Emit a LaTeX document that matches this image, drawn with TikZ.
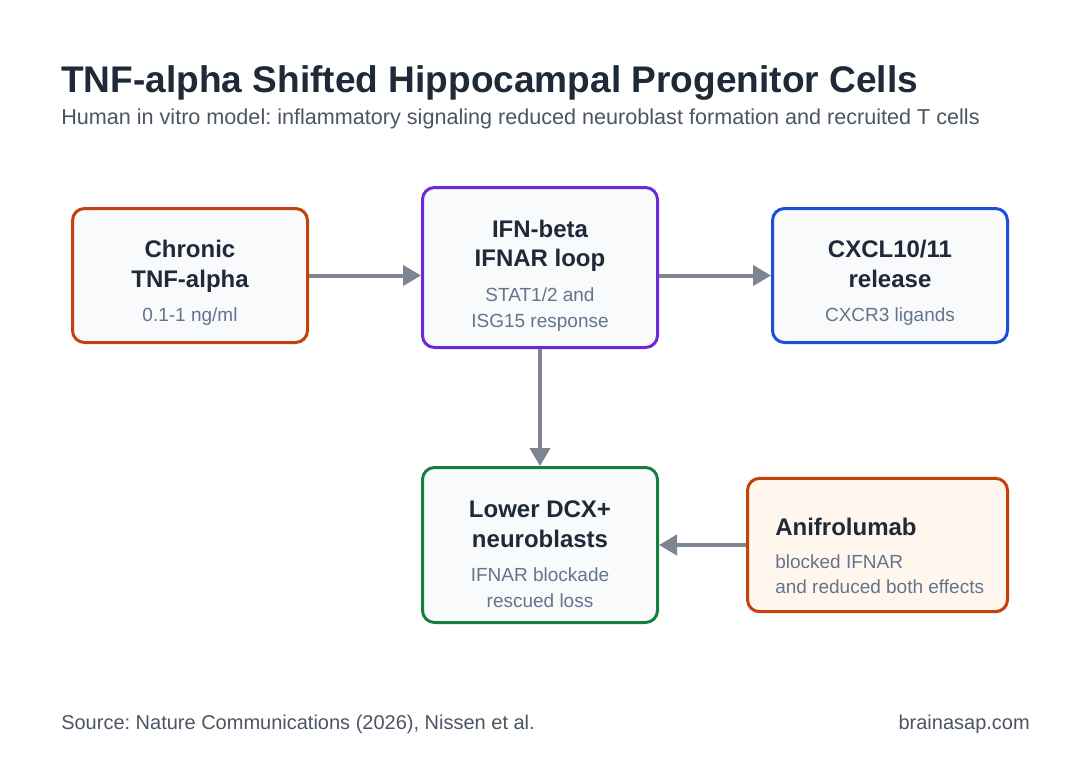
\documentclass[tikz,border=0pt]{standalone}
\usepackage{fontspec}
\setmainfont{Liberation Sans}
\frenchspacing
\usetikzlibrary{arrows.meta}
\definecolor{ink}{HTML}{1F2937}
\definecolor{sub}{HTML}{4B5563}
\definecolor{muted}{HTML}{64748B}
\definecolor{arr}{HTML}{7D8591}
\definecolor{boxbg}{HTML}{F8FAFC}
\definecolor{c1}{HTML}{C2410C}
\definecolor{c2}{HTML}{6D28D9}
\definecolor{c3}{HTML}{1D4ED8}
\definecolor{c4}{HTML}{15803D}
\definecolor{c5bg}{HTML}{FFF7ED}
\tikzset{
  box/.style={draw, line width=2.25pt, rounded corners=9pt, fill=boxbg, inner sep=0pt},
  head/.style={inner sep=0pt, anchor=base, text=ink, font=\bfseries\fontsize{18}{18}\selectfont},
  note/.style={inner sep=0pt, anchor=base, text=muted, font=\fontsize{14.25}{14.25}\selectfont},
  link/.style={draw=arr, line width=3pt, -{Triangle[length=13.5pt,width=15pt]}}
}
\begin{document}
\begin{tikzpicture}[x=0.75pt,y=-0.75pt]
\fill[white] (0,0) rectangle (1080,760);
\useasboundingbox (0,0) rectangle (1080,760);
% title
\node[inner sep=0pt, anchor=base west, text=ink, font=\bfseries\fontsize{27.8}{27.8}\selectfont] (title) at (61,92) {TNF-alpha Shifted Hippocampal Progenitor Cells};
\node[inner sep=0pt, anchor=base west, text=sub, font=\fontsize{16.2}{16.2}\selectfont] (subtitle) at (61,124) {Human in vitro model: inflammatory signaling reduced neuroblast formation and recruited T cells};
% boxes
\node[box, draw=c1, minimum width=176.25pt, minimum height=100.5pt] (b1) at (190,275.5) {};
\node[box, draw=c2, minimum width=176.25pt, minimum height=120pt] (b2) at (540,267.5) {};
\node[box, draw=c3, minimum width=176.25pt, minimum height=100.5pt] (b3) at (890,275.5) {};
\node[box, draw=c4, minimum width=176.25pt, minimum height=116.25pt] (b4) at (540,545) {};
\node[box, draw=c1, fill=c5bg, minimum width=195pt, minimum height=100pt] (b5) at (877.5,545) {};
% texts
\node[head] (t1a) at (190,257) {Chronic};
\node[head] (t1b) at (190,287) {TNF-alpha};
\node[note] (t1c) at (190,321) {0.1-1 ng/ml};
\node[head] (t2a) at (540,237) {IFN-beta};
\node[head] (t2b) at (540,266) {IFNAR loop};
\node[note] (t2c) at (540,301) {STAT1/2 and};
\node[note] (t2d) at (540,327) {ISG15 response};
\node[head] (t3a) at (890,257) {CXCL10/11};
\node[head] (t3b) at (890,287) {release};
\node[note] (t3c) at (890,321) {CXCR3 ligands};
\node[head] (t4a) at (540,517) {Lower DCX+};
\node[head] (t4b) at (540,547) {neuroblasts};
\node[note] (t4c) at (540,581) {IFNAR blockade};
\node[note] (t4d) at (540,607) {rescued loss};
\node[head, anchor=base west] (t5a) at (775,535) {Anifrolumab};
\node[note, anchor=base west] (t5b) at (775,568) {blocked IFNAR};
\node[note, anchor=base west] (t5c) at (775,593) {and reduced both effects};
% arrows
\draw[link] (b1.east) -- (b1.east -| b2.west);
\draw[link] (b3.west -| b2.east) -- (b3.west);
\draw[link] (b2.south) -- (b4.north);
\draw[link] (b5.west) -- (b5.west -| b4.east);
% footer
\node[inner sep=0pt, anchor=base west, text=sub, font=\fontsize{15}{15}\selectfont] (src) at (61,729) {Source: Nature Communications (2026), Nissen et al.};
\node[inner sep=0pt, anchor=base east, text=sub, font=\fontsize{15}{15}\selectfont] (site) at (1030,729) {brainasap.com};
\end{tikzpicture}
\end{document}
